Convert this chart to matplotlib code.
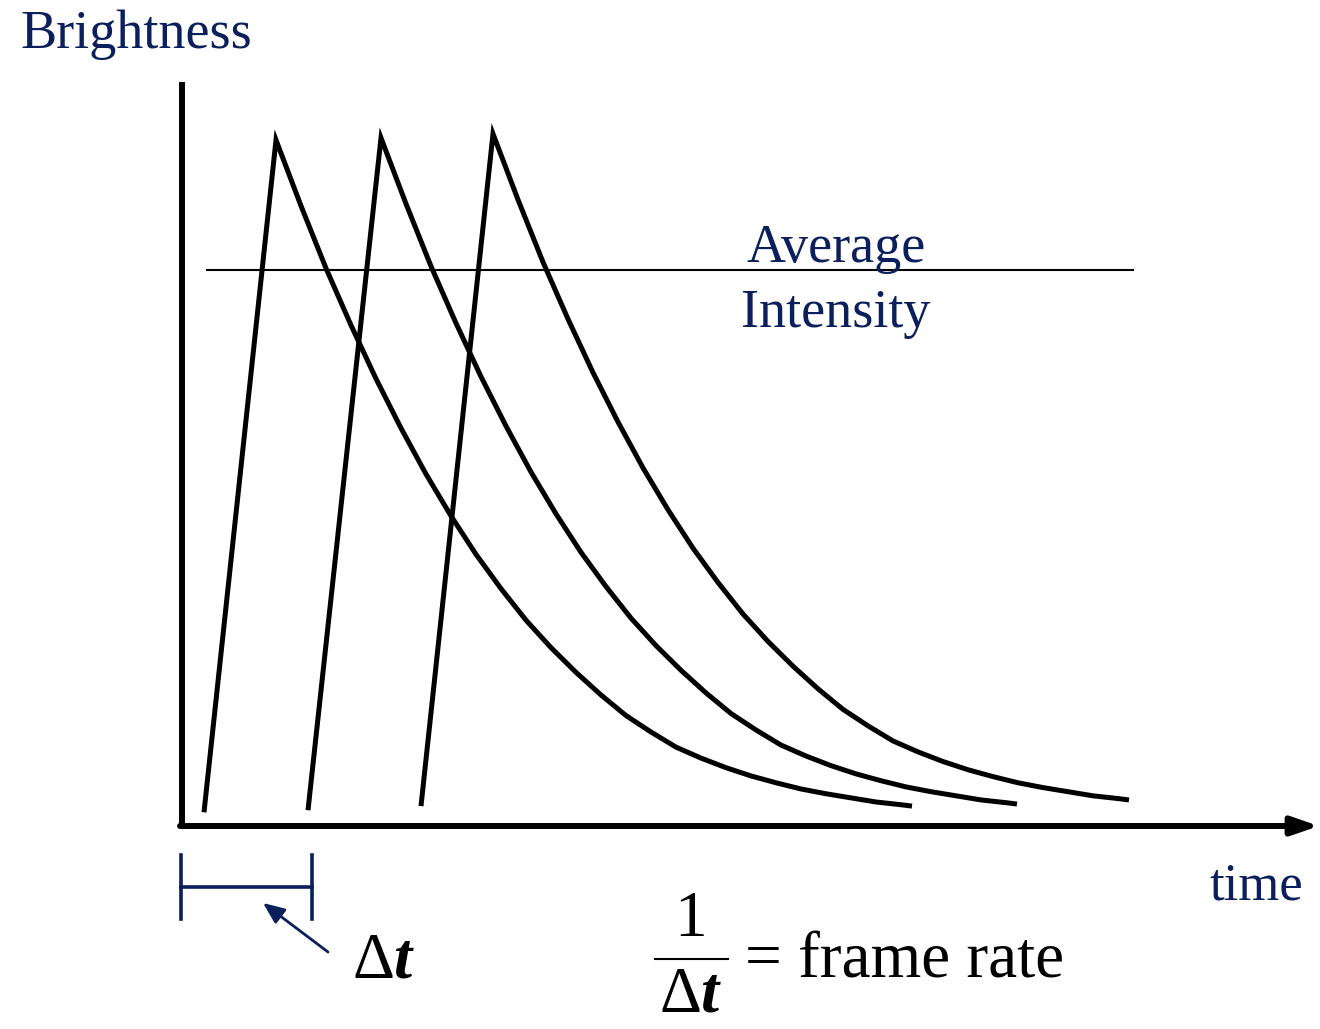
import matplotlib
matplotlib.use("Agg")
import numpy as np
import matplotlib.pyplot as plt

# Schematic: brightness of three successive frames (flash then decay)
plt.rcParams["font.family"] = ["Liberation Serif", "DejaVu Serif"]
plt.rcParams["mathtext.fontset"] = "custom"
plt.rcParams["mathtext.rm"] = "Liberation Serif"
plt.rcParams["mathtext.it"] = "Liberation Serif:italic"
plt.rcParams["mathtext.bf"] = "Liberation Serif:bold"
plt.rcParams["mathtext.bfit"] = "Liberation Serif:italic:bold"

navy = "#0b1f5c"

# time in arbitrary units, brightness relative to the peak
pulse_start_t = [0.22, 1.26, 2.39]
pulse_start_b = [0.020, 0.023, 0.029]
pulse_peak_t = [0.94, 1.99, 3.11]
pulse_lift = [0.0, 0.003, 0.009]

# decay profile (time after peak, fraction of peak)
decay_dt = [0.0, 0.25, 0.5, 0.75, 1.0, 1.25, 1.5, 1.75, 2.0, 2.25, 2.5,
            2.75, 3.0, 3.25, 3.5, 3.75, 4.0, 4.25, 4.5, 4.75, 5.0, 5.25,
            5.5, 5.75, 6.0, 6.25, 6.36]
decay_frac = [1.0, 0.904, 0.813, 0.730, 0.652, 0.580, 0.513, 0.452, 0.396,
              0.346, 0.300, 0.260, 0.224, 0.191, 0.161, 0.137, 0.115,
              0.099, 0.085, 0.073, 0.063, 0.054, 0.047, 0.041, 0.035,
              0.031, 0.029]

avg_level = 0.810
avg_t = [0.25, 9.51]

frame_dt = [-0.01, 1.30]


# pixel -> data helpers, for placing annotations only
def px(x):
    return (x - 182) / 100.0


def py(y):
    return (826 - y) / 686.0


fig = plt.figure(figsize=(13.2, 10.29), dpi=100)
ax = fig.add_axes([0, 0, 1, 1])
ax.set_xlim(px(0), px(1320))
ax.set_ylim(py(1029), py(0))
ax.axis("off")

# axes
ax.plot([0, 0], [0, py(82)], color="black", lw=4.3, solid_capstyle="butt")
ax.annotate("", xy=(px(1319), 0), xytext=(-0.02, 0),
            arrowprops=dict(arrowstyle="-|>,head_length=1.6,head_width=0.55",
                            color="black", lw=4.3, shrinkA=0, shrinkB=0))

# pulses
for t0, b0, tp, lift in zip(pulse_start_t, pulse_start_b, pulse_peak_t, pulse_lift):
    t = [t0, tp] + [tp + d for d in decay_dt[1:]]
    b = [b0, 1.0 + lift] + [f + lift for f in decay_frac[1:]]
    ax.plot(t, b, color="black", lw=3.6, solid_joinstyle="miter",
            solid_capstyle="butt")

# average intensity
ax.plot(avg_t, [avg_level, avg_level], color="black", lw=1.5)
ax.text(px(836), py(262), "Average", ha="center", va="baseline",
        fontsize=39, color=navy)
ax.text(px(836), py(327), "Intensity", ha="center", va="baseline",
        fontsize=39, color=navy)

ax.text(px(20), py(48), "Brightness", ha="left", va="baseline",
        fontsize=39, color=navy)
ax.text(px(1210), py(900), "time", ha="left", va="baseline",
        fontsize=38, color=navy)

# frame interval bracket
ax.plot([frame_dt[0], frame_dt[0]], [py(855), py(919)], color=navy, lw=2.6)
ax.plot([frame_dt[1], frame_dt[1]], [py(855), py(919)], color=navy, lw=2.6)
ax.plot(frame_dt, [py(887), py(887)], color=navy, lw=2.6)
ax.annotate("", xy=(px(263), py(903)), xytext=(px(328), py(952)),
            arrowprops=dict(arrowstyle="-|>,head_length=1.3,head_width=0.55",
                            color=navy, lw=2, shrinkA=0, shrinkB=0))
ax.text(px(352), py(978), r"$\Delta\mathbfit{t}$", ha="left", va="baseline",
        fontsize=47, color="black")

# 1 / dt = frame rate
ax.text(px(691), py(936), "1", ha="center", va="baseline", fontsize=47)
ax.plot([px(655), px(728)], [py(959), py(959)], color="black", lw=1.5)
ax.text(px(691), py(1012), r"$\Delta\mathbfit{t}$", ha="center", va="baseline",
        fontsize=47)
ax.text(px(745), py(977), "= frame rate", ha="left", va="baseline", fontsize=47)

fig.savefig("out.png", dpi=100)
